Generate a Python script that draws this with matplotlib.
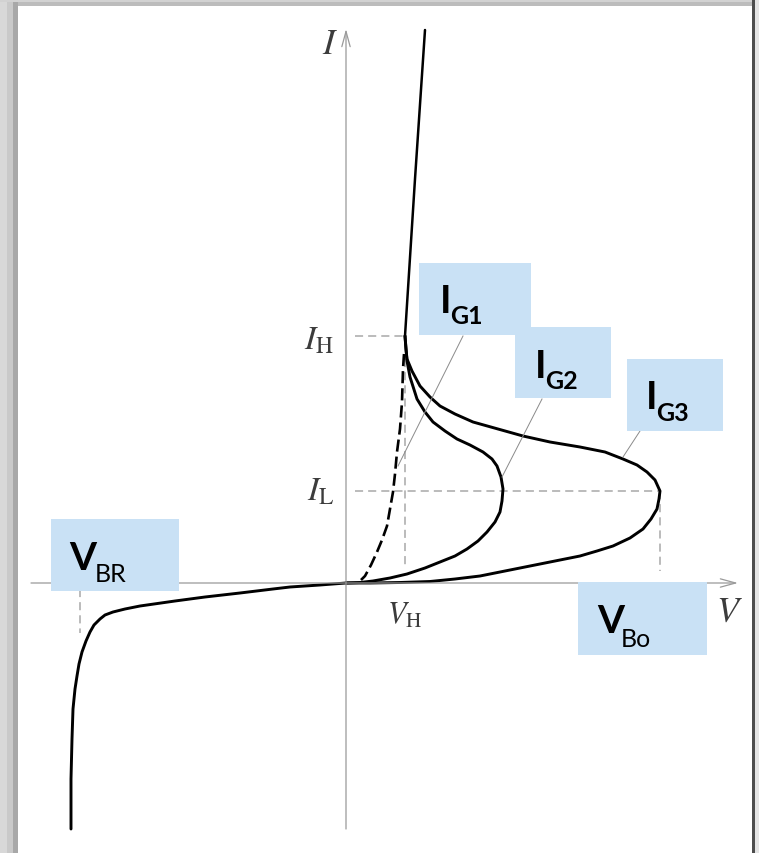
import matplotlib
matplotlib.use('Agg')
import matplotlib.pyplot as plt
from matplotlib.patches import Rectangle

plt.rcParams['mathtext.fontset'] = 'stix'

# thyristor I-V characteristic, arbitrary units (V across, I up)
on_v = [7.9, 6.9, 5.9]
on_i = [55.3, 40.4, 24.7]

ig3_v = [5.9, 6.0, 6.1, 6.6, 7.4, 8.4, 9.4, 10.9, 12.7, 15.2, 17.7, 20.4, 23.4, 25.9,
         27.7, 29.1, 30.1, 30.9, 31.4, 31.3, 31.1, 30.5, 29.7, 28.4, 26.7, 25.1, 23.4,
         20.9, 18.4, 15.9, 13.4, 10.9, 8.4, 5.4, 2.4, 0.0]
ig3_i = [24.7, 23.4, 22.4, 21.2, 19.7, 18.6, 17.7, 16.9, 16.1, 15.4, 14.7, 14.1, 13.6, 13.1,
         12.4, 11.8, 11.1, 10.3, 9.2, 8.4, 7.4, 6.4, 5.4, 4.5, 3.7, 3.2, 2.7,
         2.2, 1.7, 1.2, 0.7, 0.4, 0.15, 0.05, 0.0, 0.0]

ig2_v = [5.9, 6.0, 6.1, 6.4, 7.1, 7.9, 8.7, 9.9, 11.1, 12.4, 13.7, 14.6, 15.1, 15.5, 15.7,
         15.6, 15.4, 14.9, 14.1, 13.2, 12.1, 10.9, 9.4, 7.9, 6.1, 4.4, 2.7, 1.4, 0.0]
ig2_i = [24.7, 23.4, 22.2, 20.6, 18.4, 17.1, 16.1, 15.2, 14.4, 13.8, 13.1, 12.4, 11.7, 10.6, 9.4,
         8.2, 7.1, 6.1, 5.1, 4.2, 3.4, 2.7, 2.1, 1.5, 0.9, 0.5, 0.2, 0.05, 0.0]

ig1_v = [5.8, 5.7, 5.6, 5.4, 5.1, 4.9, 4.7, 4.4, 4.1, 3.6, 3.1, 2.5, 1.9, 1.5]
ig1_i = [22.9, 21.4, 18.1, 15.4, 13.1, 10.9, 9.1, 7.4, 5.7, 4.3, 3.1, 1.8, 0.7, 0.3]

rev_v = [0.0, -2.6, -5.6, -7.3, -10.6, -14.1, -17.1, -20.6, -22.1, -23.3, -24.1, -24.6,
         -25.2, -25.6, -26.0, -26.4, -26.7, -26.9, -27.1, -27.3, -27.4, -27.5, -27.5]
rev_i = [0.0, -0.2, -0.4, -0.6, -1.0, -1.4, -1.8, -2.3, -2.6, -2.9, -3.2, -3.6,
         -4.2, -4.9, -5.8, -6.9, -8.1, -9.3, -10.6, -12.6, -15.6, -19.6, -24.6]

I_H = 24.7
I_L = 9.2
V_H = 5.9
V_BO = 31.4
V_BR = -26.6

fig = plt.figure(figsize=(7.59, 8.54), dpi=100)
ax = fig.add_axes([0, 0, 1, 1])
ax.set_xlim(-34.6, 41.3)
ax.set_ylim(-27.0, 58.4)
ax.axis('off')

# axes with open arrow heads
axis_col = '#9a9a9a'
arrow = dict(arrowstyle='->,head_length=1.1,head_width=0.3', color=axis_col, lw=0.9,
             mutation_scale=10, shrinkA=0, shrinkB=0)
ax.annotate('', xy=(39.2, 0), xytext=(-31.5, 0), arrowprops=arrow)
ax.annotate('', xy=(0, 55.4), xytext=(0, -24.6), arrowprops=arrow)

# guide lines
guide = dict(color='#a8a8a8', lw=1.1, ls=(0, (5.3, 3.3)))
ax.plot([0.9, V_H], [I_H, I_H], **guide)
ax.plot([0.9, V_BO], [I_L, I_L], **guide)
ax.plot([V_H, V_H], [22.4, 1.4], **guide)
ax.plot([V_BO, V_BO], [I_L, 1.2], **guide)
ax.plot([V_BR, V_BR], [-0.6, -5.0], **guide)

# characteristic curves
curve = dict(color='black', lw=2.1, solid_capstyle='round', solid_joinstyle='round')
ax.plot(on_v, on_i, color='black', lw=1.8, solid_capstyle='round')
ax.plot(ig3_v, ig3_i, **curve)
ax.plot(ig2_v, ig2_i, **curve)
ax.plot(rev_v, rev_i, **curve)
ax.plot(ig1_v, ig1_i, color='black', lw=1.9, ls=(0, (4.6, 1.9)))

# leader lines to the gate current labels
lead = dict(color='#8a8a8a', lw=0.7)
ax.plot([11.7, 5.2], [24.7, 11.7], **lead)
ax.plot([19.6, 15.6], [18.4, 10.6], **lead)
ax.plot([29.4, 27.7], [15.2, 12.6], **lead)

# label boxes
box_col = '#c9e1f5'
boxes = [(7.3, 24.8, 11.2, 7.2), (16.9, 18.5, 9.6, 7.1), (28.1, 15.2, 9.6, 7.2),
         (-29.5, -0.8, 12.8, 7.2), (23.2, -7.2, 12.9, 7.3)]
for x0, y0, w, h in boxes:
    ax.add_patch(Rectangle((x0, y0), w, h, facecolor=box_col, edgecolor='none', zorder=5))

big = dict(family='Lato', fontsize=28, fontweight='bold', ha='left', va='baseline', zorder=6)
sub_b = dict(family='Lato', fontsize=18, fontweight='bold', ha='left', va='baseline', zorder=6)
sub_r = dict(family='Lato', fontsize=18, ha='left', va='baseline', zorder=6)
ax.text(9.4, 27.1, 'I', **big)
ax.text(10.4, 26.0, 'G1', **sub_b)
ax.text(18.9, 20.6, 'I', **big)
ax.text(19.9, 19.5, 'G2', **sub_b)
ax.text(30.0, 17.5, 'I', **big)
ax.text(31.0, 16.3, 'G3', **sub_b)
ax.text(-27.7, 1.4, 'V', **big)
ax.text(-25.1, 0.2, 'BR', **sub_r)
ax.text(25.1, -4.9, 'V', **big)
ax.text(27.5, -6.3, 'Bo', **sub_r)

# serif axis annotations
serif_col = '#3c3c3c'
ax.text(-1.6, 54.0, r'$I$', fontsize=26, color=serif_col, ha='center', va='center')
ax.text(38.3, -2.8, r'$V$', fontsize=26, color=serif_col, ha='center', va='center')
ax.text(-1.2, 24.4, r'$I_{\mathrm{H}}$', fontsize=24, color=serif_col, ha='right', va='center')
ax.text(-1.2, 9.3, r'$I_{\mathrm{L}}$', fontsize=24, color=serif_col, ha='right', va='center')
ax.text(5.9, -3.1, r'$V_{\mathrm{H}}$', fontsize=22, color=serif_col, ha='center', va='center')

# grey picture frame
W, H = 759.0, 854.0
def band(x0, y0, w, h, col):
    fig.add_artist(Rectangle((x0 / W, 1 - (y0 + h) / H), w / W, h / H,
                             transform=fig.transFigure, facecolor=col, edgecolor='none'))

band(0, 0, 7, 854, '#d8d8d8')
band(7, 0, 6, 854, '#c9c9c9')
band(13, 0, 5, 854, '#a8a8a8')
band(0, 0, 759, 3, '#d2d2d2')
band(18, 3, 741, 4, '#bcbcbc')
band(752, 0, 3, 854, '#4d4d4d')
band(755, 0, 4, 854, '#e4e4e4')

fig.savefig('out.png', dpi=100)
